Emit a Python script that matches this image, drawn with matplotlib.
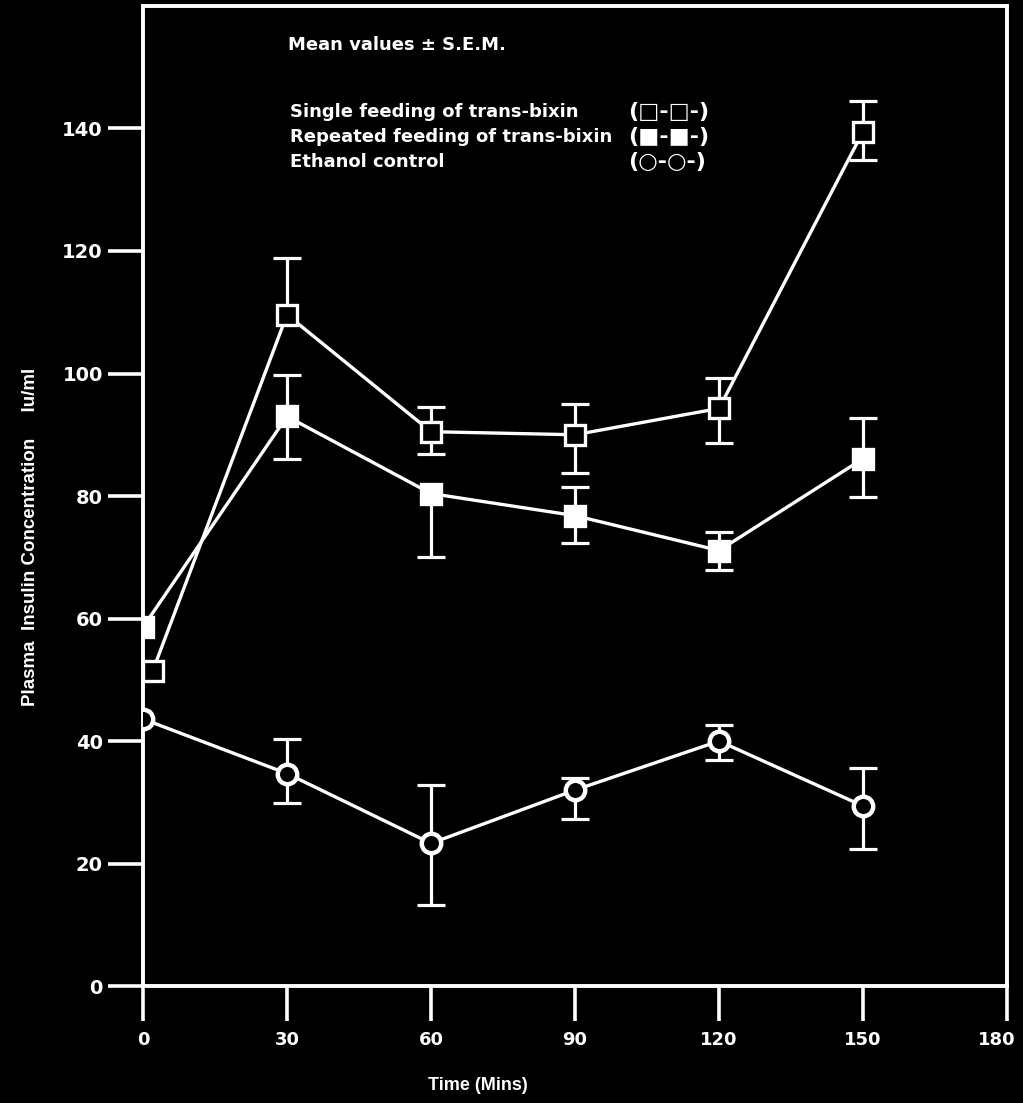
import numpy as np
import matplotlib
matplotlib.use("Agg")
import matplotlib.pyplot as plt
import matplotlib.transforms as mtransforms

# insulin response, mean +- S.E.M. (nan = that half of the bar not drawn)
times = [0, 30, 60, 90, 120, 150]
times_single = [2, 30, 60, 90, 120, 150]

single = [51.4, 109.6, 90.5, 90.0, 94.3, 139.5]
single_lo = [np.nan, np.nan, 3.7, 6.3, 5.6, 4.6]
single_hi = [np.nan, 9.3, 4.1, 5.0, 4.9, 5.0]

repeated = [58.6, 93.0, 80.4, 76.8, 71.1, 86.1]
repeated_lo = [np.nan, 7.0, 10.3, 4.4, 3.1, 6.2]
repeated_hi = [np.nan, 6.8, np.nan, 4.6, 3.0, 6.6]

ethanol = [43.6, 34.7, 23.3, 32.0, 40.0, 29.4]
ethanol_lo = [np.nan, 4.8, 10.1, 4.8, 3.1, 7.1]
ethanol_hi = [np.nan, 5.6, 9.5, 1.9, 2.7, 6.2]

legend_names = ["Single feeding of trans-bixin",
                "Repeated feeding of trans-bixin",
                "Ethanol control"]
legend_keys = ["(\u25a1-\u25a1-)", "(\u25a0-\u25a0-)", "(\u25cb-\u25cb-)"]

plt.rcParams['font.family'] = ['DejaVu Sans']
plt.rcParams['font.weight'] = 'bold'

fg = 'white'


def sem_bars(ax, x, y, lo, hi, cap=2.9):
    """vertical S.E.M. bars, each half drawn only where given"""
    x = np.asarray(x, float)
    y = np.asarray(y, float)
    lo = np.asarray(lo, float)
    hi = np.asarray(hi, float)
    bottom = np.where(np.isnan(lo), y, y - lo)
    top = np.where(np.isnan(hi), y, y + hi)
    ax.vlines(x, bottom, top, colors=fg, lw=2.3, zorder=2)
    ends = np.concatenate([(y - lo)[~np.isnan(lo)], (y + hi)[~np.isnan(hi)]])
    xs = np.concatenate([x[~np.isnan(lo)], x[~np.isnan(hi)]])
    ax.hlines(ends, xs - cap, xs + cap, colors=fg, lw=2.3, zorder=2)


fig = plt.figure(figsize=(10.23, 11.03), dpi=100, facecolor='black')
ax = fig.add_axes([0.1398, 0.106, 0.8446, 0.8886], facecolor='black')

sem_bars(ax, times_single, single, single_lo, single_hi)
sem_bars(ax, times, repeated, repeated_lo, repeated_hi)
sem_bars(ax, times, ethanol, ethanol_lo, ethanol_hi)

ax.plot(times_single, single, color=fg, lw=2.4, marker='s', ms=14,
        mfc='black', mec=fg, mew=2.4, zorder=3)
ax.plot(times, repeated, color=fg, lw=2.4, marker='s', ms=14,
        mfc=fg, mec=fg, mew=2.4, zorder=3)
ax.plot(times, ethanol, color=fg, lw=2.4, marker='o', ms=14,
        mfc='black', mec=fg, mew=3.2, zorder=3)

ax.set_xlim(0, 180)
ax.set_ylim(0, 160)
ax.set_xticks(range(0, 181, 30))
ax.set_yticks(range(0, 141, 20))

for s in ax.spines.values():
    s.set_color(fg)
    s.set_linewidth(2.8)

ax.tick_params(axis='y', colors=fg, direction='out', length=25, width=2.6,
               labelsize=14, pad=4)
ax.tick_params(axis='x', colors=fg, direction='out', length=25, width=2.6,
               labelsize=13, pad=7)
for lbl in ax.get_xticklabels() + ax.get_yticklabels():
    lbl.set_fontweight('bold')

# keep the last x label inside the figure edge
last = ax.get_xticklabels()[-1]
last.set_transform(last.get_transform() +
                   mtransforms.ScaledTranslation(-0.1, 0, fig.dpi_scale_trans))

ax.text(0.168, 0.960, "Mean values \u00b1 S.E.M.", transform=ax.transAxes,
        color=fg, fontsize=13, va='center', ha='left')
for i, (name, key) in enumerate(zip(legend_names, legend_keys)):
    y = 0.892 - i * 0.0255
    ax.text(0.170, y, name, transform=ax.transAxes, color=fg,
            fontsize=13, va='center', ha='left')
    ax.text(0.562, y, key, transform=ax.transAxes, color=fg,
            fontsize=16, va='center', ha='left')

fig.text(0.467, 0.016, "Time (Mins)", color=fg, fontsize=13,
         family=['Liberation Sans'], ha='center', va='center')
fig.text(0.030, 1 - 537 / 1103,
         "Plasma  Insulin Concentration     Iu/ml", color=fg,
         family=['Liberation Sans'], fontsize=13.5, rotation=90,
         ha='center', va='center')

fig.savefig("out.png", dpi=100, facecolor='black')
